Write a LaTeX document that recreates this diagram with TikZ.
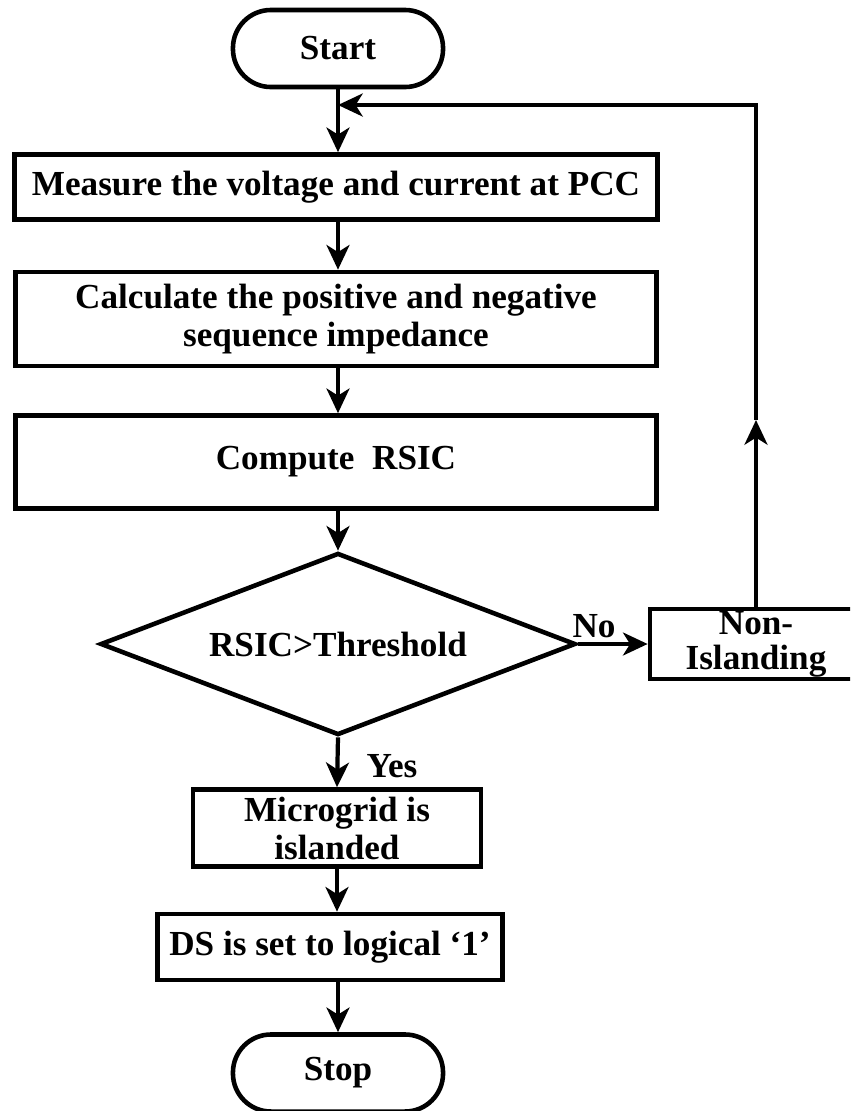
\documentclass[tikz,border=0pt]{standalone}
\usepackage{fontspec}
\setmainfont{Liberation Serif}
\usetikzlibrary{arrows.meta,shapes.geometric}
\tikzset{
	block/.style={draw, line width=1.3pt, inner sep=0pt, align=center, font=\bfseries\fontsize{10}{10.8}\selectfont},
	term/.style={block, rounded corners=0.38cm, minimum width=2.1cm, minimum height=0.77cm},
	decide/.style={block, diamond, aspect=2.61, minimum width=4.75cm, minimum height=1.82cm},
	flow/.style={line width=1.2pt, -{Stealth[length=7pt,width=6.5pt,inset=2pt]}},
	tag/.style={font=\bfseries\fontsize{10}{10.8}\selectfont}
}

\begin{document}
\begin{tikzpicture}[x=0.01cm, y=-0.01cm]
		%%%%% START %%%%%
		\useasboundingbox (0, 0) rectangle (850, 1111);
		\clip (0, 0) rectangle (850, 1111);
		
		\node[term] (start) at (338, 48.5) {Start};
		\node[block, minimum width=6.43cm, minimum height=0.65cm] (measure) at (336, 187) {Measure the voltage and current at PCC};
		\node[block, minimum width=6.41cm, minimum height=0.94cm] (calc) at (336, 319) {Calculate the positive and negative\\sequence impedance};
		\node[block, minimum width=6.41cm, minimum height=0.93cm] (compute) at (336, 462) {Compute~ RSIC};
		\node[decide] (test) at (338, 644) {RSIC>Threshold};
		\node[block, minimum width=2.12cm, minimum height=0.70cm, font=\bfseries\fontsize{10}{10}\selectfont] (nonisl) at (756, 644) {Non-\\Islanding};
		\node[block, minimum width=2.88cm, minimum height=0.77cm] (micro) at (337, 828) {Microgrid is\\islanded};
		\node[block, minimum width=3.45cm, minimum height=0.66cm] (ds) at (330, 947) {DS is set to logical `1'};
		\node[term] (stop) at (338, 1073) {Stop};
		
		\node[tag] (no) at (594, 626) {No};
		\node[tag] (yes) at (392, 766) {Yes};
		
		\draw[flow] (start.south) -- (start.south |- measure.north);
		\draw[flow] (start.south |- measure.south) -- (start.south |- calc.north);
		\draw[flow] (start.south |- calc.south) -- (start.south |- compute.north);
		\draw[flow] (start.south |- compute.south) -- (test.north);
		\draw[flow] (test.east) -- (nonisl.west);
		\draw[flow] (test.south) -- (micro.north);
		\draw[flow] (micro.south) -- (micro.south |- ds.north);
		\draw[flow] (stop.north |- ds.south) -- (stop.north);
		
		% back to the top
		\coordinate (up) at (756, 420);
		\coordinate (corner) at (756, 105);
		\coordinate (join) at (338, 105);
		\draw[flow] (nonisl.north) -- (up);
		\draw[flow] (up) -- (corner) -- (join);
		%%%%% END %%%%%
\end{tikzpicture}
\end{document}
